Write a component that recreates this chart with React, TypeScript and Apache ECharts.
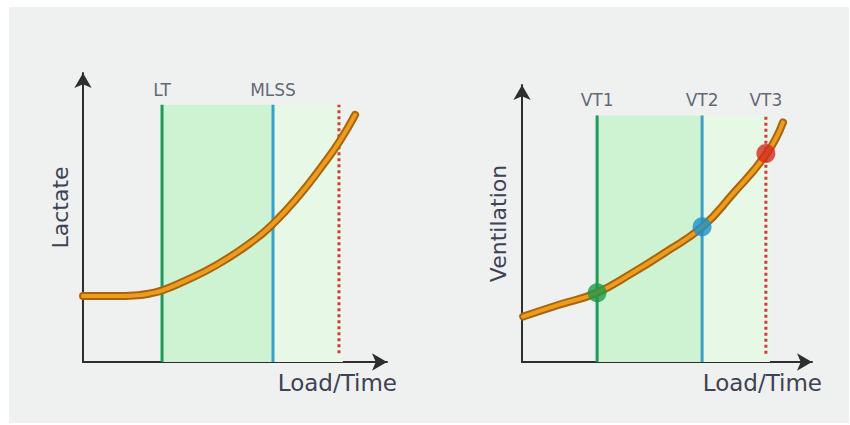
import React, { useEffect, useRef } from "react";
import * as echarts from "echarts";

// ---- data ----
const leftCurveX = [0, 10, 18, 22, 26.4, 33, 44, 54.9, 62.1, 71.4, 79, 84.5, 89.5];
const leftCurveY = [22.8, 22.8, 23.1, 23.7, 24.9, 27.8, 33.6, 41.1, 47.4, 58, 68.3, 76.5, 85.5];
const leftThresholdNames = ["LT", "MLSS"];
const leftThresholdX = [26, 62.5];
const leftRedX = 84.2;
const leftZoneEnd = 85.5;

const rightCurveX = [0.4, 12.5, 25.8, 37.8, 49.3, 62.2, 72.3, 84.4, 90];
const rightCurveY = [16.4, 20.6, 25, 32, 39.5, 48.8, 60.2, 75.3, 86.5];
const rightThresholdNames = ["VT1", "VT2", "VT3"];
const rightThresholdX = [25.9, 62.1, 84.1];
const rightThresholdY = [25, 48.8, 75.3];
const rightZoneEnd = 85.5;

const lineTop = 89;
const axisMax = 100;

const TEXT = "#3d4254";
const FONT = "DejaVu Sans";
const GREEN = "#1f9a5a";
const BLUE = "#3aa0c8";
const RED = "#d8383a";
const DARK_ZONE = "#cdf3d3";
const LIGHT_ZONE = "#e7f8e6";
const markerColors = ["#1e9a48", "#1b92cc", "#d42a1f"];

function zip(xs: number[], ys: number[]) {
  return xs.map((x, i) => [x, ys[i]]);
}

export default function App() {
  const ref = useRef<HTMLDivElement>(null);
  useEffect(() => {
    if (!ref.current) return;
    const chart = echarts.init(ref.current, null, { renderer: "svg" });

    const axisLine = {
      show: true,
      symbol: ["none", "arrow"],
      symbolSize: [13, 15],
      lineStyle: { color: "#2e2e2e", width: 2 },
    };
    const mkX = (gi: number) => ({
      type: "value",
      gridIndex: gi,
      min: 0,
      max: axisMax,
      axisLine,
      axisTick: { show: false },
      axisLabel: { show: false },
      splitLine: { show: false },
      name: "Load/Time",
      nameLocation: "end",
      nameGap: 10,
      nameTextStyle: {
        color: TEXT,
        fontFamily: FONT,
        fontSize: 23,
        align: "right",
        verticalAlign: "top",
        padding: [9, 0, 0, 0],
      },
    });
    const mkY = (gi: number, name: string, gap: number, pad: number[]) => ({
      type: "value",
      gridIndex: gi,
      min: 0,
      max: axisMax,
      axisLine,
      axisTick: { show: false },
      axisLabel: { show: false },
      splitLine: { show: false },
      name,
      nameLocation: "middle",
      nameGap: gap,
      nameTextStyle: { color: TEXT, fontFamily: FONT, fontSize: 22, padding: pad },
    });

    const series: any[] = [];

    const addPanel = (
      gi: number,
      cx: number[],
      cy: number[],
      names: string[],
      tx: number[],
      solidColors: string[],
      redX: number,
      zoneEnd: number
    ) => {
      series.push({
        type: "line",
        xAxisIndex: gi,
        yAxisIndex: gi,
        data: [],
        silent: true,
        z: 1,
        markArea: {
          silent: true,
          data: [
            [
              { xAxis: tx[0], yAxis: 0, itemStyle: { color: DARK_ZONE } },
              { xAxis: tx[1], yAxis: lineTop },
            ],
            [
              { xAxis: tx[1], yAxis: 0, itemStyle: { color: LIGHT_ZONE } },
              { xAxis: zoneEnd, yAxis: lineTop },
            ],
          ],
        },
      });
      solidColors.forEach((c, i) => {
        series.push({
          type: "line",
          xAxisIndex: gi,
          yAxisIndex: gi,
          data: [
            [tx[i], 0],
            [tx[i], lineTop],
          ],
          symbol: "none",
          lineStyle: { color: c, width: 3 },
          z: 2,
        });
      });
      series.push({
        type: "line",
        xAxisIndex: gi,
        yAxisIndex: gi,
        data: [
          [redX, 3],
          [redX, lineTop],
        ],
        symbol: "none",
        lineStyle: { color: RED, width: 3, type: [3, 3] },
        z: 2,
      });
      series.push({
        type: "scatter",
        xAxisIndex: gi,
        yAxisIndex: gi,
        symbolSize: 1,
        itemStyle: { color: "transparent" },
        data: names.map((n, i) => ({ value: [tx[i], lineTop], name: n })),
        label: {
          show: true,
          position: "top",
          distance: 6,
          formatter: (p: any) => p.name,
          color: TEXT,
          fontFamily: FONT,
          fontSize: 17,
        },
        z: 3,
      });
      series.push({
        type: "line",
        xAxisIndex: gi,
        yAxisIndex: gi,
        data: zip(cx, cy),
        smooth: 0.5,
        symbol: "none",
        lineStyle: { color: "#a8650c", width: 8, cap: "round" },
        z: 4,
      });
      series.push({
        type: "line",
        xAxisIndex: gi,
        yAxisIndex: gi,
        data: zip(cx, cy),
        smooth: 0.5,
        symbol: "none",
        lineStyle: { color: "#ee9c20", width: 4, cap: "round" },
        z: 5,
      });
    };

    addPanel(0, leftCurveX, leftCurveY, leftThresholdNames, leftThresholdX, [GREEN, BLUE], leftRedX, leftZoneEnd);
    addPanel(
      1,
      rightCurveX,
      rightCurveY,
      rightThresholdNames,
      rightThresholdX,
      [GREEN, BLUE],
      rightThresholdX[2],
      rightZoneEnd
    );
    series.push({
      type: "scatter",
      xAxisIndex: 1,
      yAxisIndex: 1,
      symbolSize: 19,
      data: rightThresholdX.map((x, i) => ({
        value: [x, rightThresholdY[i]],
        itemStyle: { color: markerColors[i] },
      })),
      z: 6,
    });

    chart.setOption({
      animation: false,
      backgroundColor: "#ffffff",
      graphic: [
        {
          type: "rect",
          shape: { x: 9, y: 7, width: 840, height: 416 },
          style: { fill: "#eff0f0" },
          z: -10,
          silent: true,
        },
      ],
      grid: [
        { left: 83, top: 73, width: 304, height: 289 },
        { left: 522, top: 85, width: 290, height: 277 },
      ],
      xAxis: [mkX(0), mkX(1)],
      yAxis: [mkY(0, "Lactate", 12, [0, 0, 0, 20]), mkY(1, "Ventilation", 13, [0, 0, 0, 0])],
      series,
    });
    return () => chart.dispose();
  }, []);
  return (
    <div
      ref={ref}
      style={{ position: "absolute", left: 0, top: 0, width: 850, height: 425 }}
    />
  );
}
